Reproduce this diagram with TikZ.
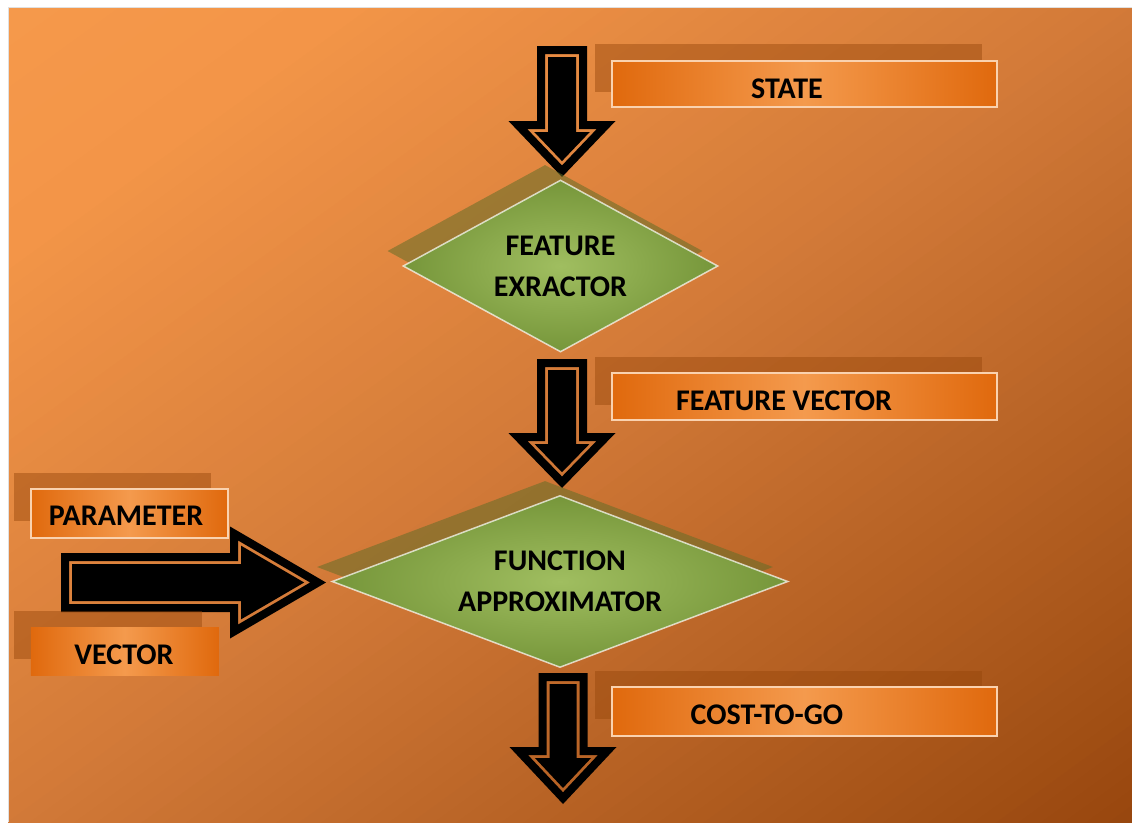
\documentclass[tikz,border=0pt]{standalone}
\usepackage{fontspec}
\setmainfont{Carlito}
\usetikzlibrary{shapes.geometric}
\definecolor{bg0}{HTML}{F5994B}
\definecolor{bg1}{HTML}{F39548}
\definecolor{bg2}{HTML}{D27A38}
\definecolor{bg3}{HTML}{98470E}
\definecolor{lblEdge}{HTML}{E0690D}
\definecolor{lblMid}{HTML}{F49A4D}
\definecolor{lblShadow}{HTML}{96460A}
\definecolor{dmdIn}{HTML}{A0BE60}
\definecolor{dmdOut}{HTML}{76963A}
\definecolor{dmdShadow}{HTML}{646E28}

\tikzset{
  lblshadow/.style={fill=lblShadow, fill opacity=0.45, draw=none, inner sep=0, anchor=north west},
  lblbox/.style={left color=lblEdge, right color=lblEdge, middle color=lblMid, draw=white!55!lblMid, line width=1.5pt, inner sep=0, anchor=north west},
  lbltext/.style={font=\bfseries\fontsize{30}{36}\selectfont, anchor=base, inner sep=0},
  dmd/.style={diamond, aspect=2, inner sep=0, minimum height=172pt, shading=radial, inner color=dmdIn, outer color=dmdOut, draw=white, draw opacity=0.7, line width=1.5pt, font=\bfseries\fontsize{30}{41}\selectfont, align=center},
  dmdshadow/.style={diamond, aspect=2, inner sep=0, minimum height=172pt, fill=dmdShadow, fill opacity=0.55}
}

% background gradient segment: t0 t1 colA colB N
\newcommand\GradSeg[5]{%
  \foreach \k in {1,...,#5} {
    \pgfmathsetmacro\ta{#1+(#2-#1)*(\k-1)/#5}
    \pgfmathsetmacro\tb{#1+(#2-#1)*\k/#5+0.002}
    \pgfmathsetmacro\pc{100-100*(\k-0.5)/#5}
    \fill[#3!\pc!#4] ({8+2*\ta*1124},7) -- ({8+2*\tb*1124},7) -- (8,{7+2*\tb*815}) -- (8,{7+2*\ta*815}) -- cycle;
  }
}

% down arrow points: cx T B P s h d prefix
\newcommand\DownPts[8]{%
  \pgfmathsetmacro\kk{#6/(#4-#3)}%
  \pgfmathsetmacro\qq{#7*sqrt(1+\kk*\kk)}%
  \coordinate (#8a) at ({#1-#5+#7},{#2+#7});
  \coordinate (#8b) at ({#1+#5-#7},{#2+#7});
  \coordinate (#8c) at ({#1+#5-#7},{#3+#7});
  \coordinate (#8d) at ({#1+\kk*(#4-#3-#7)-\qq},{#3+#7});
  \coordinate (#8e) at ({#1},{#4-\qq/\kk});
  \coordinate (#8f) at ({#1-\kk*(#4-#3-#7)+\qq},{#3+#7});
  \coordinate (#8g) at ({#1-#5+#7},{#3+#7});
}
\newcommand\BlockDown[6]{%
  \DownPts{#1}{#2}{#3}{#4}{#5}{#6}{0}{o}
  \DownPts{#1}{#2}{#3}{#4}{#5}{#6}{8}{m}
  \DownPts{#1}{#2}{#3}{#4}{#5}{#6}{11}{i}
  \fill[black, even odd rule] (oa)--(ob)--(oc)--(od)--(oe)--(of)--(og)--cycle
     (ma)--(mb)--(mc)--(md)--(me)--(mf)--(mg)--cycle;
  \fill[black] (ia)--(ib)--(ic)--(id)--(ie)--(if)--(ig)--cycle;
}
% right arrow points: cy L B P s h d prefix
\newcommand\RightPts[8]{%
  \pgfmathsetmacro\kk{#6/(#4-#3)}%
  \pgfmathsetmacro\qq{#7*sqrt(1+\kk*\kk)}%
  \coordinate (#8a) at ({#2+#7},{#1-#5+#7});
  \coordinate (#8b) at ({#3+#7},{#1-#5+#7});
  \coordinate (#8c) at ({#3+#7},{#1-\kk*(#4-#3-#7)+\qq});
  \coordinate (#8e) at ({#4-\qq/\kk},{#1});
  \coordinate (#8f) at ({#3+#7},{#1+\kk*(#4-#3-#7)-\qq});
  \coordinate (#8g) at ({#3+#7},{#1+#5-#7});
  \coordinate (#8h) at ({#2+#7},{#1+#5-#7});
}
\newcommand\BlockRight[6]{%
  \RightPts{#1}{#2}{#3}{#4}{#5}{#6}{0}{o}
  \RightPts{#1}{#2}{#3}{#4}{#5}{#6}{8}{m}
  \RightPts{#1}{#2}{#3}{#4}{#5}{#6}{11}{i}
  \fill[black, even odd rule] (oa)--(ob)--(oc)--(oe)--(of)--(og)--(oh)--cycle
     (ma)--(mb)--(mc)--(me)--(mf)--(mg)--(mh)--cycle;
  \fill[black] (ia)--(ib)--(ic)--(ie)--(if)--(ig)--(ih)--cycle;
}

\begin{document}
\begin{tikzpicture}[x=1pt,y=-1pt]
\useasboundingbox (0,0) rectangle (1132,822);
\fill[white] (0,0) rectangle (1132,822);
% background
\begin{scope}
  \clip (8,7) rectangle (1132,822);
  \GradSeg{0}{0.15}{bg0}{bg1}{6}
  \GradSeg{0.15}{0.5}{bg1}{bg2}{30}
  \GradSeg{0.5}{1}{bg2}{bg3}{50}
\end{scope}
\draw[black!12, line width=0.8pt] (8,822) -- (8,7) -- (1132,7);

% arrows
\BlockDown{562}{46}{121}{177}{25}{53.5}
\BlockDown{562}{359}{433}{488}{25}{53.5}
\BlockDown{563}{673}{747}{804}{24.5}{53.5}
\BlockRight{582.5}{61}{230}{326}{29.5}{56}

% diamonds
\node[dmdshadow, minimum width=315pt] (feS) at (545,251) {};
\node[dmd, minimum width=315pt] (fe) at (560.5,266) {FEATURE\\EXRACTOR};
\node[dmdshadow, minimum width=456pt] (faS) at (545,567) {};
\node[dmd, minimum width=456pt] (fa) at (560,581.5) {FUNCTION\\APPROXIMATOR};

% labels
\node[lblshadow, minimum width=387pt, minimum height=48pt] (stS) at (595,44) {};
\node[lblbox, minimum width=385pt, minimum height=46pt] (stB) at (611,60) {};
\node[lbltext] (st) at (787,98) {STATE};

\node[lblshadow, minimum width=387pt, minimum height=48pt] (fvS) at (595,357) {};
\node[lblbox, minimum width=385pt, minimum height=47pt] (fvB) at (611,372) {};
\node[lbltext] (fv) at (784,410) {FEATURE VECTOR};

\node[lblshadow, minimum width=387pt, minimum height=48pt] (cgS) at (595,671) {};
\node[lblbox, minimum width=385pt, minimum height=49pt] (cgB) at (611,686) {};
\node[lbltext] (cg) at (767,724) {COST-TO-GO};

\node[lblshadow, minimum width=197pt, minimum height=48pt] (pmS) at (14,473) {};
\node[lblbox, minimum width=197pt, minimum height=49pt] (pmB) at (30,488) {};
\node[lbltext] (pm) at (126,525) {PARAMETER};

\node[lblshadow, minimum width=188pt, minimum height=48pt] (vcS) at (14,611) {};
\node[lblbox, minimum width=188pt, minimum height=48pt, draw=none] (vcB) at (30,627) {};
\node[lbltext] (vc) at (124,664) {VECTOR};
\end{tikzpicture}
\end{document}
